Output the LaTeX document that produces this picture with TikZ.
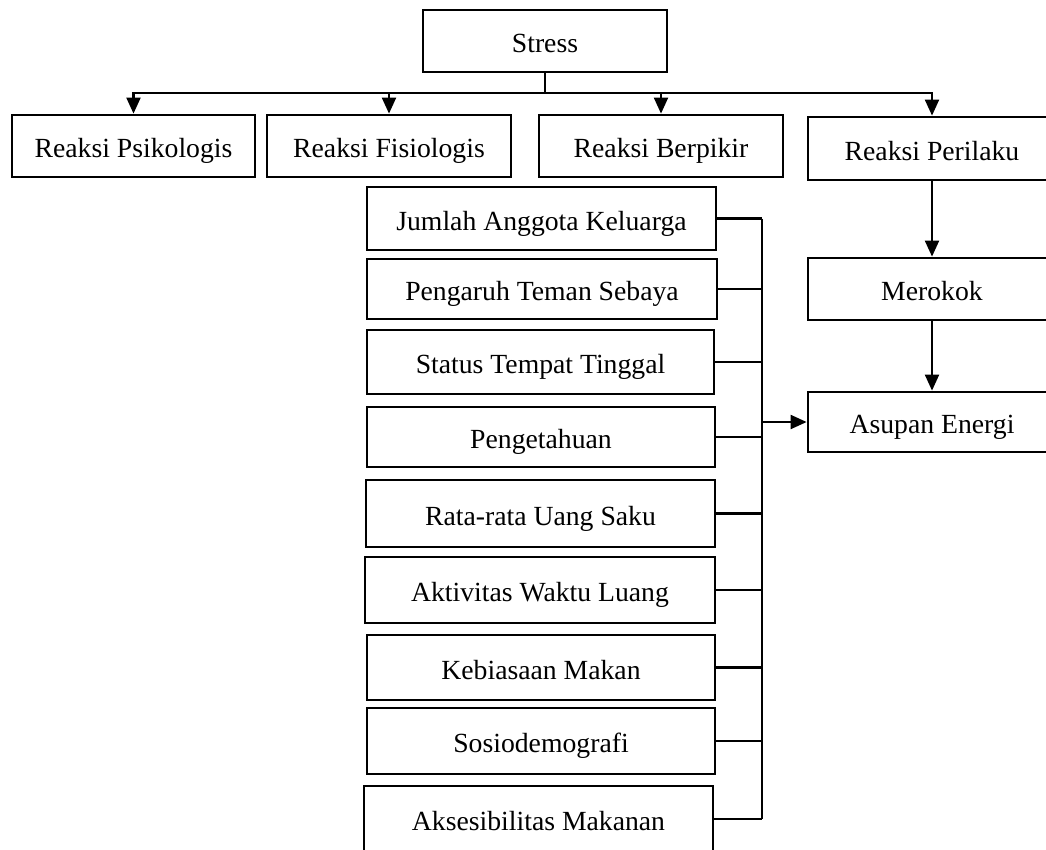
\documentclass[tikz,border=0pt]{standalone}
\usepackage{fontspec}
\setmainfont{Liberation Serif}
\usetikzlibrary{arrows.meta}
\begin{document}
\begin{tikzpicture}[x=1pt,y=-1pt,
  box/.style={draw, line width=2.8pt, inner sep=0pt, align=center,
    text height=29pt, text depth=6pt,
    font=\fontsize{27.7}{33}\selectfont},
  conn/.style={line width=2.1pt},
  arr/.style={line width=2.1pt, -{Triangle[length=16pt,width=14pt]}}]
\useasboundingbox (0,0) rectangle (1046,849);
\clip (0,0) rectangle (1046,849);
% top
\node[box, minimum width=244pt, minimum height=62pt] (stress) at (545,41) {Stress};
\node[box, minimum width=243pt, minimum height=62pt] (psi) at (133.5,146) {Reaksi Psikologis};
\node[box, minimum width=244pt, minimum height=62pt] (fis) at (389,146) {Reaksi Fisiologis};
\node[box, minimum width=244pt, minimum height=62pt] (ber) at (661,146) {Reaksi Berpikir};
\node[box, minimum width=248pt, minimum height=63pt] (per) at (932,148.5) {Reaksi Perilaku};
\node[box, minimum width=248pt, minimum height=62pt] (mer) at (932,289) {Merokok};
\node[box, minimum width=248pt, minimum height=60pt] (asu) at (932,422) {Asupan Energi};
% middle column
\node[box, minimum width=349pt, minimum height=63pt] (jum) at (541.5,218.5) {Jumlah Anggota Keluarga};
\node[box, minimum width=350pt, minimum height=60pt] (pen) at (542,289) {Pengaruh Teman Sebaya};
\node[box, minimum width=347pt, minimum height=64pt] (sta) at (540.5,362) {Status Tempat Tinggal};
\node[box, minimum width=348pt, minimum height=60pt] (tah) at (541,437) {Pengetahuan};
\node[box, minimum width=349pt, minimum height=67pt] (rat) at (540.5,513.5) {Rata-rata Uang Saku};
\node[box, minimum width=350pt, minimum height=66pt] (akt) at (540,590) {Aktivitas Waktu Luang};
\node[box, minimum width=348pt, minimum height=65pt] (keb) at (541,667.5) {Kebiasaan Makan};
\node[box, minimum width=348pt, minimum height=66pt] (sos) at (541,741) {Sosiodemografi};
\node[box, minimum width=349pt, minimum height=66pt] (aks) at (538.5,819) {Aksesibilitas Makanan};
% top connectors
\coordinate (j) at (545,93);
\draw[conn] (stress.south) -- (j);
\draw[arr] (j) -| (psi.north);
\draw[arr] (j) -| (fis.north);
\draw[arr] (j) -| (ber.north);
\draw[arr] (j) -| (per.north);
\draw[arr] (per.south) -- (mer.north);
\draw[arr] (mer.south) -- (asu.north);
% bus
\coordinate (btop) at (762,218.5);
\coordinate (bbot) at (762,819);
\coordinate (bmid) at (762,422);
\draw[conn] (btop) -- (bbot);
\foreach \n in {jum,pen,sta,tah,rat,akt,keb,sos,aks}{
  \draw[conn] (\n.east) -- (\n.east -| btop);
}
\draw[arr] (bmid) -- (asu.west);
\end{tikzpicture}
\end{document}
